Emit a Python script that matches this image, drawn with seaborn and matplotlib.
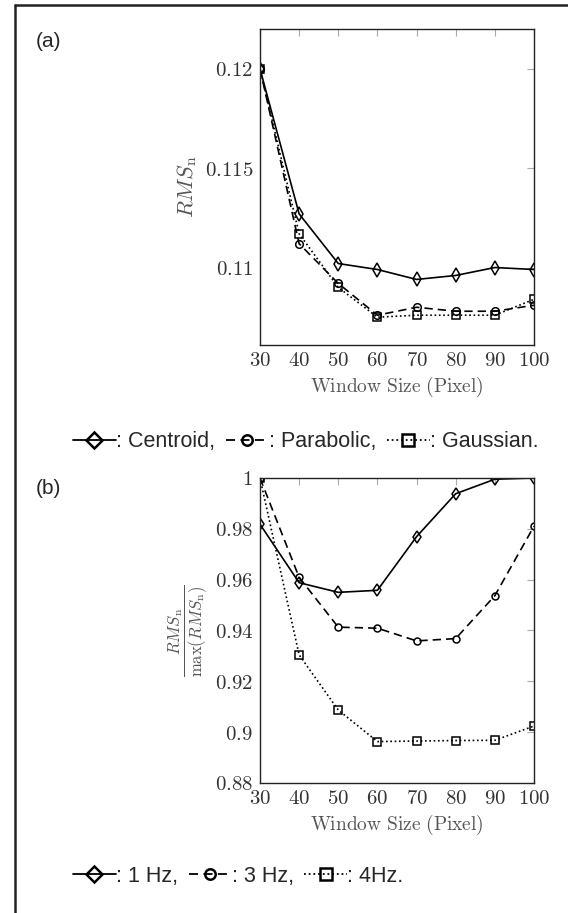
"""
RMS_n vs window size for the three peak-fitting methods, and normalised RMS_n per frequency
"""
import seaborn as sns
import pandas as pd
import matplotlib
matplotlib.use("Agg")
import matplotlib.pyplot as plt
from matplotlib.lines import Line2D

window = [30, 40, 50, 60, 70, 80, 90, 100]

# (a) RMS_n per method
centroid = [0.1200, 0.1127, 0.1102, 0.1099, 0.1094, 0.1096, 0.1100, 0.1099]
parabolic = [0.1200, 0.1112, 0.1092, 0.1076, 0.1080, 0.1078, 0.1078, 0.1081]
gaussian = [0.1200, 0.1117, 0.1090, 0.1075, 0.1076, 0.1076, 0.1076, 0.1084]
methods = ['Centroid', 'Parabolic', 'Gaussian']

# (b) normalised RMS_n per frequency
hz1 = [0.9818, 0.9588, 0.9550, 0.9558, 0.9769, 0.9938, 0.9995, 1.0]
hz3 = [1.0, 0.9609, 0.9413, 0.9409, 0.9359, 0.9368, 0.9537, 0.9810]
hz4 = [1.0, 0.9304, 0.9087, 0.8963, 0.8965, 0.8967, 0.8968, 0.9024]
freqs = ['1 Hz', '3 Hz', '4Hz']

yticks_a = [0.11, 0.115, 0.12]
ytick_labels_a = ['0.11', '0.115', '0.12']
yticks_b = [0.88, 0.90, 0.92, 0.94, 0.96, 0.98, 1.0]
ytick_labels_b = ['0.88', '0.9', '0.92', '0.94', '0.96', '0.98', '1']

markers = ['d', 'o', 's']
dashes = ['', (5, 3), (1, 1.6)]

sns.set_style("white")
plt.rcParams['mathtext.fontset'] = 'cm'
plt.rcParams['font.family'] = ['Liberation Sans', 'DejaVu Sans']


def long_df(series, names):
    rows = []
    for name, vals in zip(names, series):
        for w, v in zip(window, vals):
            rows.append([w, name, v])
    return pd.DataFrame(rows, columns=['Window', 'Series', 'Value'])


def style_axes(ax, yticks, ylabels, ylim, ylabel, ylabel_size):
    ax.set_xlim(30, 100)
    ax.set_ylim(*ylim)
    ax.set_xticks(window)
    ax.set_xticklabels(['$%d$' % w for w in window])
    ax.set_yticks(yticks)
    ax.set_yticklabels(['$%s$' % t for t in ylabels])
    ax.tick_params(direction='in', length=5, width=0.8, color='#aaaaaa',
                   top=True, right=True, labelsize=15, labelcolor='#333333')
    ax.tick_params(axis='x', pad=4)
    ax.tick_params(axis='y', pad=5)
    for s in ax.spines.values():
        s.set_color('#222222')
        s.set_linewidth(1.0)
    ax.set_xlabel(r'$\mathrm{Window\ Size\ (Pixel)}$', fontsize=14, color='#555555', labelpad=4)
    ax.set_ylabel(ylabel, fontsize=ylabel_size, color='#555555')


def draw(ax, df, names, msizes):
    sns.lineplot(data=df, x='Window', y='Value', style='Series', style_order=names,
                 markers=markers, dashes=dashes, color='black', linewidth=1.2,
                 markerfacecolor='none', markeredgecolor='black', markeredgewidth=1.1,
                 legend=False, ax=ax)
    for line, ms in zip(ax.get_lines(), msizes):
        line.set_markersize(ms)


def legend_handles():
    return [Line2D([], [], color='black', linewidth=1.3, linestyle='-' if d == '' else (0, d),
                   marker=m, markersize=ms, markerfacecolor='none',
                   markeredgecolor='black', markeredgewidth=1.8)
            for m, d, ms in zip(['D', 'o', 's'], dashes, [8, 7.5, 8])]


fig = plt.figure(figsize=(5.68, 9.13), dpi=100)
ax1 = fig.add_axes([0.4577, 0.6221, 0.4824, 0.3461])
ax2 = fig.add_axes([0.4577, 0.1424, 0.4824, 0.3341])

draw(ax1, long_df([centroid, parabolic, gaussian], methods), methods, [7, 5.5, 5.5])
style_axes(ax1, yticks_a, ytick_labels_a, (0.1061, 0.1220), r'$RMS_{\mathrm{n}}$', 16)

draw(ax2, long_df([hz1, hz3, hz4], freqs), freqs, [6, 5, 6])
style_axes(ax2, yticks_b, ytick_labels_b, (0.88, 1.0),
           r'$\dfrac{RMS_{\mathrm{n}}}{\max(RMS_{\mathrm{n}})}$', 12)

fig.legend(legend_handles(), [': Centroid,', ': Parabolic,', ': Gaussian.'],
           loc='center left', bbox_to_anchor=(0.128, 0.516), ncol=3, frameon=False,
           fontsize=15.5, handlelength=2.0, handletextpad=0.0, columnspacing=0.5,
           borderpad=0, borderaxespad=0)
fig.legend(legend_handles(), [': 1 Hz,', ': 3 Hz,', ': 4Hz.'],
           loc='center left', bbox_to_anchor=(0.128, 0.040), ncol=3, frameon=False,
           fontsize=15.5, handlelength=2.0, handletextpad=0.0, columnspacing=0.5,
           borderpad=0, borderaxespad=0)

fig.text(0.063, 0.954, '(a)', fontsize=15, va='center', ha='left')
fig.text(0.063, 0.465, '(b)', fontsize=15, va='center', ha='left')

# outer frame on the left and top
fig.add_artist(Line2D([0.0264, 0.0264], [0.0, 0.9940], color='#222222', linewidth=1.8))
fig.add_artist(Line2D([0.0264, 1.0], [0.9940, 0.9940], color='#222222', linewidth=1.8))

fig.savefig('out.png', dpi=100)
